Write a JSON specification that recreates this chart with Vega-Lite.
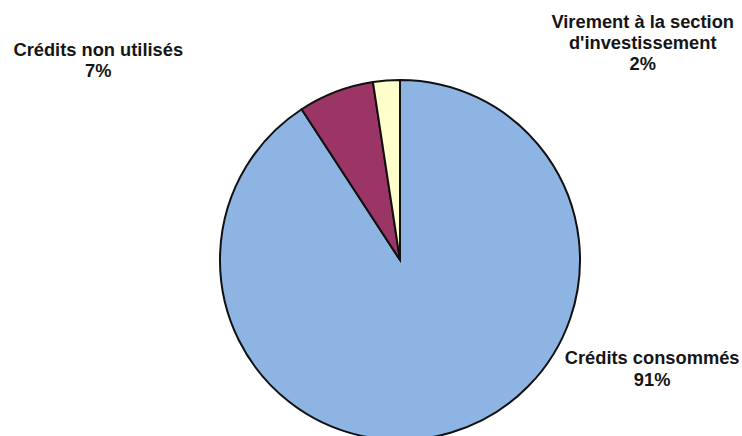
{
  "$schema": "https://vega.github.io/schema/vega-lite/v6.json",
  "width": 360,
  "height": 352,
  "autosize": {"type": "none"},
  "padding": {"left": 220, "top": 84, "right": 162, "bottom": 0},
  "background": "white",
  "config": {"view": {"stroke": null}},
  "data": {
    "values": [
      {"cat": "Crédits consommés", "value": 90.8, "label": "Crédits consommés\n91%"},
      {"cat": "Crédits non utilisés", "value": 6.8, "label": "Crédits non utilisés\n7%"},
      {"cat": "Virement à la section d'investissement", "value": 2.4, "label": "Virement à la section\nd'investissement\n2%"}
    ]
  },
  "encoding": {
    "theta": {"field": "value", "type": "quantitative", "stack": true},
    "order": {"field": "value", "sort": "descending"}
  },
  "layer": [
    {
      "mark": {"type": "arc", "outerRadius": 180, "stroke": "#111111", "strokeWidth": 2},
      "encoding": {
        "color": {
          "field": "cat",
          "type": "nominal",
          "scale": {
            "domain": ["Crédits consommés", "Crédits non utilisés", "Virement à la section d'investissement"],
            "range": ["#8db4e3", "#9a3566", "#ffffcc"]
          },
          "legend": null
        }
      }
    },
    {
      "mark": {"type": "text", "radius": 190, "dx": 198, "dy": -78, "align": "center", "baseline": "alphabetic", "lineBreak": "\n", "lineHeight": 22, "font": "Liberation Sans", "fontWeight": "bold", "fontSize": 18.3, "color": "#151515"},
      "encoding": {
        "text": {"condition": {"test": "datum.cat === 'Crédits consommés'", "field": "label"}, "value": ""}
      }
    },
    {
      "mark": {"type": "text", "radius": 190, "dx": -234, "dy": -26, "align": "center", "baseline": "alphabetic", "lineBreak": "\n", "lineHeight": 21, "font": "Liberation Sans", "fontWeight": "bold", "fontSize": 18.3, "color": "#151515"},
      "encoding": {
        "text": {"condition": {"test": "datum.cat === 'Crédits non utilisés'", "field": "label"}, "value": ""}
      }
    },
    {
      "mark": {"type": "text", "radius": 190, "dx": 257, "dy": -43, "align": "center", "baseline": "alphabetic", "lineBreak": "\n", "lineHeight": 21, "font": "Liberation Sans", "fontWeight": "bold", "fontSize": 18.3, "color": "#151515"},
      "encoding": {
        "text": {"condition": {"test": "datum.cat === \"Virement à la section d'investissement\"", "field": "label"}, "value": ""}
      }
    }
  ]
}
